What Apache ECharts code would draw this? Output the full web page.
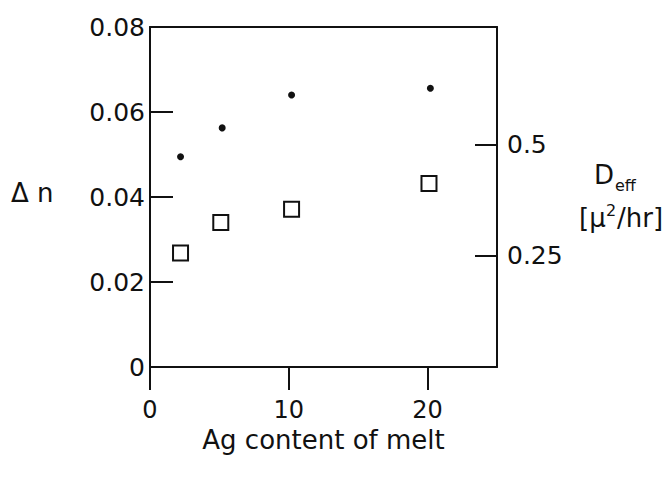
<!DOCTYPE html>
<html>
<head>
<meta charset="utf-8">
<script src="https://cdn.jsdelivr.net/npm/echarts@6/dist/echarts.min.js"></script>
<style>
  html, body { margin: 0; padding: 0; background: #fff; }
  #main { width: 672px; height: 478px; }
</style>
</head>
<body>
<div id="main"></div>
<script>
// Ag content of melt (x) for each series
var dotX = [2.2, 5.2, 10.2, 20.2];
var dotDeff = [0.473, 0.538, 0.612, 0.627];   // D_eff, right axis
var sqX = [2.2, 5.1, 10.2, 20.1];
var sqDn = [0.0268, 0.034, 0.0371, 0.0432];   // Δn, left axis

var xTicks = [0, 10, 20];
var rightTicks = [0.25, 0.5];

var ink = '#111';
var font = 'DejaVu Sans';

function pairs(xs, ys) {
  return xs.map(function (x, i) { return [x, ys[i]]; });
}

var myChart = echarts.init(document.getElementById('main'), null, { renderer: 'svg' });

myChart.setOption({
  animation: false,
  backgroundColor: '#fff',
  grid: { left: 150, right: 175, top: 27, bottom: 111 },
  xAxis: [{
    type: 'value',
    min: 0, max: 25, interval: 10,
    splitLine: { show: false },
    axisLine: { onZero: false, lineStyle: { color: ink, width: 2 } },
    axisTick: { inside: false, length: 23, customValues: xTicks, lineStyle: { color: ink, width: 2 } },
    axisLabel: { customValues: xTicks, margin: 31, color: ink, fontFamily: font, fontSize: 24 },
    name: 'Ag content of melt',
    nameLocation: 'middle',
    nameGap: 58,
    nameTextStyle: { color: ink, fontFamily: font, fontSize: 26 }
  }, {
    type: 'value', position: 'top',
    min: 0, max: 25,
    splitLine: { show: false },
    axisLine: { show: true, onZero: false, lineStyle: { color: ink, width: 2 } },
    axisTick: { show: false },
    axisLabel: { show: false }
  }],
  yAxis: [{
    type: 'value',
    min: 0, max: 0.08, interval: 0.02,
    splitLine: { show: false },
    axisLine: { show: true, onZero: false, lineStyle: { color: ink, width: 2 } },
    axisTick: { inside: true, length: 23, lineStyle: { color: ink, width: 2 } },
    axisLabel: {
      margin: 5, color: ink, fontFamily: font, fontSize: 25,
      formatter: function (v) { return v === 0 ? '0' : v.toFixed(2); }
    }
  }, {
    type: 'value', position: 'right',
    min: 0, max: 0.765,
    splitLine: { show: false },
    axisLine: { show: true, onZero: false, lineStyle: { color: ink, width: 2 } },
    axisTick: { inside: true, length: 22, customValues: rightTicks, lineStyle: { color: ink, width: 2 } },
    axisLabel: {
      customValues: rightTicks, margin: 10, color: ink, fontFamily: font, fontSize: 25,
      formatter: function (v) { return String(v); }
    }
  }],
  graphic: [
    { type: 'text', left: 11, top: 180, style: { text: 'Δ n', fill: ink, font: '26px "DejaVu Sans"' } },
    { type: 'text', left: 594, top: 162, style: { text: 'D', fill: ink, font: '26px "DejaVu Sans"' } },
    { type: 'text', left: 615, top: 177, style: { text: 'eff', fill: ink, font: '16px "DejaVu Sans"' } },
    { type: 'text', left: 579, top: 205, style: { text: '[μ', fill: ink, font: '26px "DejaVu Sans"' } },
    { type: 'text', left: 606, top: 202, style: { text: '2', fill: ink, font: '16px "DejaVu Sans"' } },
    { type: 'text', left: 617, top: 205, style: { text: '/hr]', fill: ink, font: '26px "DejaVu Sans"' } }
  ],
  series: [{
    name: 'Deff',
    type: 'scatter',
    yAxisIndex: 1,
    symbol: 'circle',
    symbolSize: 7,
    itemStyle: { color: ink, opacity: 1 },
    data: pairs(dotX, dotDeff)
  }, {
    name: 'dn',
    type: 'scatter',
    yAxisIndex: 0,
    symbol: 'rect',
    symbolSize: 15,
    itemStyle: { color: '#fff', borderColor: ink, borderWidth: 2, opacity: 1 },
    data: pairs(sqX, sqDn)
  }]
});
</script>
</body>
</html>
